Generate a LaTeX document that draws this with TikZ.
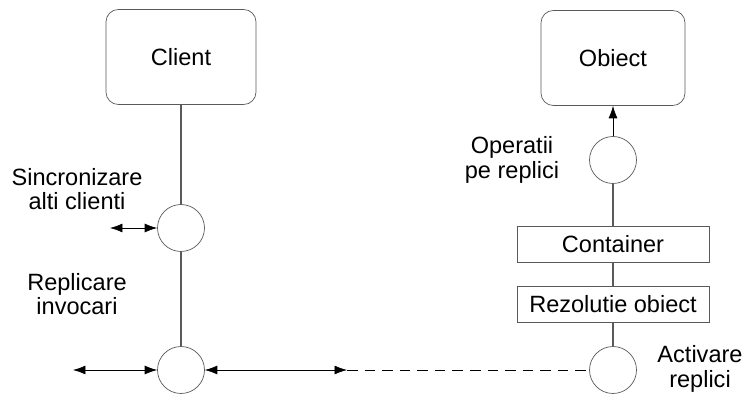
\documentclass[tikz,border=0pt]{standalone}
\usepackage{fontspec}
\setmainfont{Liberation Sans}
\usepackage{tikz}
\usetikzlibrary{arrows.meta}
\definecolor{lineg}{HTML}{5A5A5A}

\begin{document}
\begin{tikzpicture}[x=0.02cm, y=-0.02cm,
      >={Latex[length=2.5mm, width=1.8mm]},
      font=\fontsize{13.4}{14}\selectfont,
      ent/.style={draw=lineg, rounded corners=7pt, minimum width=3cm, minimum height=1.9cm, fill=white},
      lyr/.style={draw=lineg, minimum width=3.84cm, minimum height=0.72cm, fill=white},
      pt/.style={draw=lineg, circle, minimum size=0.94cm, inner sep=0pt, fill=white},
      lbl/.style={align=center, inner sep=0pt},
      wire/.style={draw=lineg, line width=0.6pt}]
    \useasboundingbox (0,0) rectangle (746,394);
    % client side
    \node[ent] (client) at (181,57) {Client};
    \node[pt] (sync) at (181,228) {};
    \node[pt] (repl) at (181,370) {};
    % object side
    \node[ent, minimum width=2.88cm] (obj) at (613,58) {Obiect};
    \node[pt] (ops) at (613,160) {};
    \node[lyr] (cont) at (613,244) {Container};
    \node[lyr] (rez) at (613,304) {Rezolutie obiect};
    \node[pt] (act) at (613,370) {};
    % free ends
    \coordinate (syncend) at (110,228);
    \coordinate (replend) at (73,370);
    \coordinate (mid) at (347,370);
    % labels
    \node[lbl] (synclbl) at (77,189) {Sincronizare\\alti clienti};
    \node[lbl] (repllbl) at (77,294) {Replicare\\invocari};
    \node[lbl] (opslbl) at (512,160) {Operatii\\pe replici};
    \node[lbl] (actlbl) at (700,369) {Activare\\replici};
    % connectors
    \path[wire] (client) -- (sync);
    \path[wire] (sync) -- (repl);
    \draw[<->] (syncend) -- (sync);
    \draw[<->] (replend) -- (repl);
    \draw[<->] (repl) -- (mid);
    \draw[dashed, dash pattern=on 6pt off 4pt] (mid) -- (act);
    \path[wire] (act) -- (rez);
    \path[wire] (rez) -- (cont);
    \path[wire] (cont) -- (ops);
    \draw[->] (ops) -- (obj);
\end{tikzpicture}
\end{document}
